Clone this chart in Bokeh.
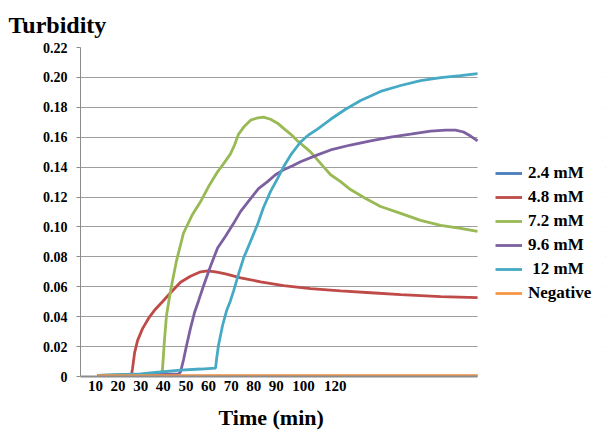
from bokeh.plotting import figure
from bokeh.models import Range1d, FixedTicker, NumeralTickFormatter, Legend, LegendItem, Title, BoxAnnotation
from bokeh.embed import file_html
from bokeh.resources import INLINE

# ---- data (time in min, turbidity) ----
t_24 = [10.9, 179.0]
v_24 = [0.0003, 0.0003]

t_48 = [10.9, 25.9, 26.4, 27.3, 28.6, 30.8, 33.5, 36.5, 39.6, 43.2, 47.6, 52.0, 56.5, 59.6,
        63.1, 67.5, 74.2, 83.0, 93.2, 105.1, 118.4, 131.7, 145.0, 162.7, 179.0]
v_48 = [0.0005, 0.001, 0.0056, 0.016, 0.024, 0.032, 0.039, 0.045, 0.050, 0.056, 0.063, 0.067,
        0.070, 0.0706, 0.070, 0.0686, 0.066, 0.0633, 0.0607, 0.0587, 0.0573, 0.056, 0.0547,
        0.0534, 0.0527]

t_72 = [10.9, 25.5, 38.8, 39.6, 40.5, 41.4, 43.2, 45.8, 48.9, 52.9, 56.5, 60.0, 64.0, 66.6,
        69.7, 71.5, 73.3, 75.9, 78.6, 81.2, 84.3, 87.4, 90.5, 93.6, 96.3, 99.4, 102.0, 105.1,
        108.2, 110.9, 114.0, 118.4, 122.8, 129.5, 136.1, 145.0, 153.8, 162.7, 171.5, 179.0]
v_72 = [0.0008, 0.001, 0.0012, 0.0043, 0.0242, 0.0408, 0.0573, 0.0772, 0.0958, 0.1084, 0.117,
        0.127, 0.1369, 0.1422, 0.1489, 0.1548, 0.1621, 0.1674, 0.1714, 0.1727, 0.1734, 0.172,
        0.1694, 0.1654, 0.1621, 0.1575, 0.1542, 0.1502, 0.1449, 0.1402, 0.1349, 0.1303, 0.125,
        0.119, 0.1137, 0.1091, 0.1044, 0.1011, 0.0991, 0.0971]

t_96 = [10.9, 34.3, 46.7, 47.6, 48.9, 50.3, 52.0, 53.8, 55.6, 57.8, 60.9, 64.0, 67.5, 71.1,
        74.2, 78.6, 82.1, 86.1, 89.6, 93.2, 97.2, 100.7, 108.2, 114.0, 122.8, 131.7, 140.5,
        149.4, 158.2, 164.9, 169.3, 172.8, 175.9, 179.0]
v_96 = [0.0008, 0.0012, 0.0017, 0.003, 0.011, 0.0209, 0.0322, 0.0428, 0.0507, 0.0607, 0.0739,
        0.0859, 0.0938, 0.1024, 0.1104, 0.119, 0.1256, 0.1303, 0.1349, 0.1382, 0.1409, 0.1436,
        0.1482, 0.1515, 0.1548, 0.1575, 0.1601, 0.1621, 0.1641, 0.1648, 0.1648, 0.1635, 0.1608,
        0.1575]

t_12 = [10.9, 29.9, 38.8, 47.6, 56.5, 63.1, 63.5, 64.4, 66.2, 68.0, 69.7, 71.1, 73.3, 75.5,
        78.6, 81.7, 84.3, 87.4, 90.5, 93.2, 96.7, 100.7, 104.2, 108.2, 114.0, 120.6, 127.3,
        136.1, 145.0, 153.8, 162.7, 171.5, 179.0]
v_12 = [0.0008, 0.0017, 0.003, 0.0043, 0.005, 0.0056, 0.011, 0.0209, 0.0341, 0.0441, 0.0507,
        0.0573, 0.0686, 0.0792, 0.0905, 0.1018, 0.113, 0.1236, 0.1323, 0.1402, 0.1489, 0.1568,
        0.1615, 0.1654, 0.172, 0.1787, 0.1846, 0.1906, 0.1946, 0.1979, 0.1999, 0.2012, 0.2025]

t_neg = [10.9, 179.0]
v_neg = [0.0006, 0.0006]

series_names = ["2.4 mM", "4.8 mM", "7.2 mM", "9.6 mM", " 12 mM", "Negative"]
series_t = [t_24, t_48, t_72, t_96, t_12, t_neg]
series_v = [v_24, v_48, v_72, v_96, v_12, v_neg]
colors = ["#4A7EBB", "#BE4B48", "#98B954", "#7D60A0", "#46AAC5", "#F79646"]

x_ticks = [10, 20, 30, 40, 50, 60, 70, 80, 90, 102, 116]
x_tick_labels = ["10", "20", "30", "40", "50", "60", "70", "80", "90", "100", "120"]
y_ticks = [0, 0.02, 0.04, 0.06, 0.08, 0.10, 0.12, 0.14, 0.16, 0.18, 0.20, 0.22]

X_START, X_END = 3.36, 179.0   # extent of the plotted time axis
FONT = "Liberation Serif"

p = figure(width=610, height=439, output_backend="svg", toolbar_location=None,
           x_range=Range1d(X_START, 235.6), y_range=Range1d(0, 0.22),
           min_border_left=80, min_border_right=5, min_border_top=45, min_border_bottom=63)
p.outline_line_color = None
p.background_fill_color = "white"

# top title
p.title.text = "Turbidity"
p.title.align = "left"
p.title.offset = -72
p.title.standoff = 19
p.title.text_font = FONT
p.title.text_font_style = "bold"
p.title.text_font_size = "24px"
p.title.text_color = "black"

# axes
p.xaxis.ticker = FixedTicker(ticks=x_ticks)
p.xaxis.bounds = (X_START, X_END)
p.xaxis.major_label_overrides = {k: v for k, v in zip(x_ticks, x_tick_labels)}
p.xaxis.major_tick_out = 0
p.xaxis.major_tick_in = 0
p.xaxis.minor_tick_out = 0
p.xaxis.minor_tick_in = 0
p.xaxis.axis_line_color = "#8C8C8C"
p.xaxis.axis_line_width = 2
p.xaxis.major_label_standoff = 4
p.xaxis.major_label_text_font = FONT
p.xaxis.major_label_text_font_style = "bold"
p.xaxis.major_label_text_font_size = "15px"
p.xaxis.major_label_text_color = "black"

p.yaxis.ticker = FixedTicker(ticks=y_ticks)
p.yaxis.formatter = NumeralTickFormatter(format="0.00")
p.yaxis.major_label_overrides = {0: "0"}
p.yaxis.major_tick_out = 4
p.yaxis.major_tick_in = 0
p.yaxis.minor_tick_out = 0
p.yaxis.minor_tick_in = 0
p.yaxis.major_tick_line_color = "#8C8C8C"
p.yaxis.axis_line_color = "#8C8C8C"
p.yaxis.major_label_standoff = 9
p.yaxis.major_label_text_font = FONT
p.yaxis.major_label_text_font_style = "bold"
p.yaxis.major_label_text_font_size = "14px"
p.yaxis.major_label_text_color = "black"

p.xgrid.grid_line_color = None
p.ygrid.grid_line_color = "#9E9E9E"
p.ygrid.grid_line_width = 1

# white area to the right of the plotted region (legend area)
p.add_layout(BoxAnnotation(left=X_END, fill_color="white", fill_alpha=1.0,
                           line_color=None, level="underlay"))

renderers = []
for t, v, c in zip(series_t, series_v, colors):
    r = p.line(t, v, line_color=c, line_width=2.8)
    renderers.append(r)

legend = Legend(items=[LegendItem(label=n, renderers=[r]) for n, r in zip(series_names, renderers)],
                location=(415, 73), padding=0, margin=0, spacing=4,
                label_height=20, glyph_height=20, glyph_width=27, label_standoff=6,
                label_text_font=FONT, label_text_font_style="bold", label_text_font_size="17px",
                label_text_color="black", background_fill_alpha=0, border_line_color=None)
p.add_layout(legend, "center")

p.add_layout(Title(text="Time (min)", align="left", offset=138, standoff=19, text_font=FONT,
                   text_font_style="bold", text_font_size="22px", text_color="black"), "below")

open("out.html", "w").write(file_html(p, INLINE))
